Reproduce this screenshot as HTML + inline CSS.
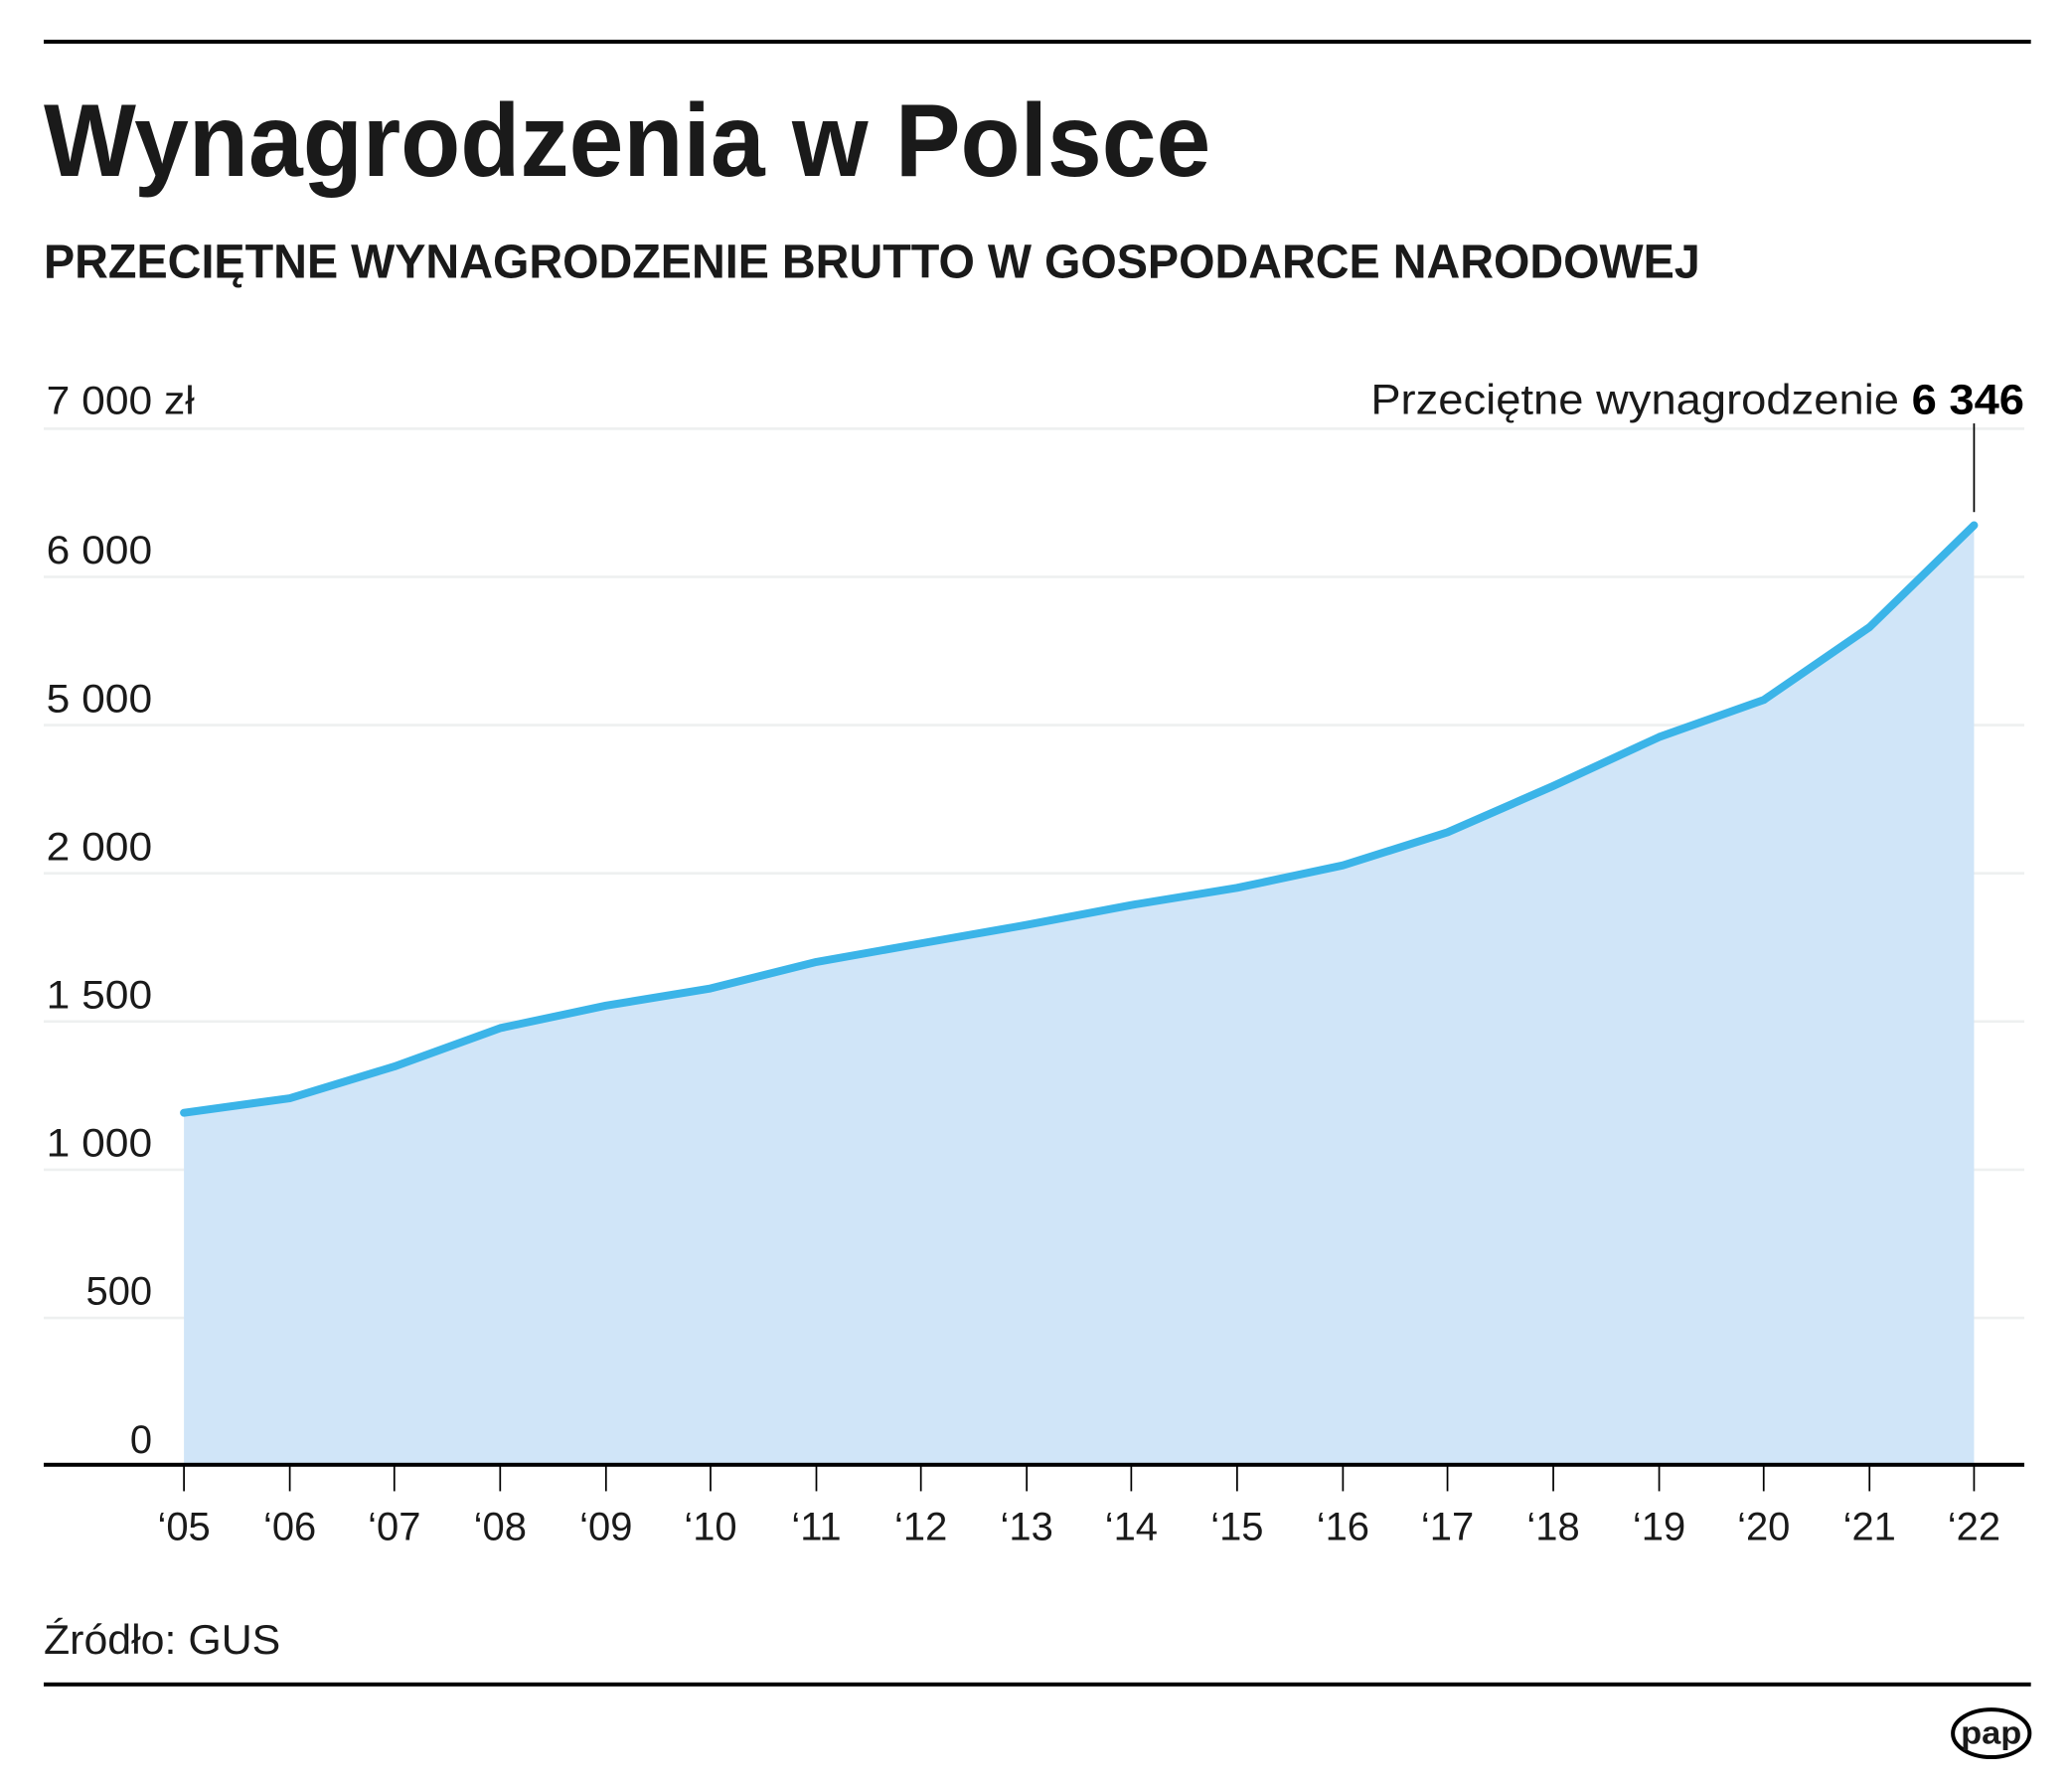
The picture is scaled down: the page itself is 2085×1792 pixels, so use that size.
<!DOCTYPE html>
<html><head><meta charset="utf-8"><style>
html,body{margin:0;padding:0;background:#fff;}
svg{display:block;}
text{font-family:"Liberation Sans",sans-serif;fill:#1a1a1a;}
</style></head><body>
<svg width="2085" height="1792" viewBox="0 0 1566 1346" xmlns="http://www.w3.org/2000/svg">
<rect x="0" y="0" width="1566" height="1346" fill="#fff"/>
<rect x="33" y="30" width="1502" height="3" fill="#000"/>
<text x="33" y="133" font-size="78" font-weight="bold" textLength="882" lengthAdjust="spacingAndGlyphs" fill="#000">Wynagrodzenia w Polsce</text>
<text x="33" y="210" font-size="36" font-weight="bold" textLength="1252" lengthAdjust="spacingAndGlyphs" fill="#000">PRZECIĘTNE WYNAGRODZENIE BRUTTO W GOSPODARCE NARODOWEJ</text>
<g stroke="#eef0f0" stroke-width="2">
<line x1="33" y1="324" x2="1530" y2="324"/>
<line x1="33" y1="436" x2="1530" y2="436"/>
<line x1="33" y1="548" x2="1530" y2="548"/>
<line x1="33" y1="660" x2="1530" y2="660"/>
<line x1="33" y1="772" x2="1530" y2="772"/>
<line x1="33" y1="884" x2="1530" y2="884"/>
<line x1="33" y1="996" x2="1530" y2="996"/>
</g>
<g font-size="30" text-anchor="end">
<text x="147" y="313" textLength="112" lengthAdjust="spacingAndGlyphs">7 000 zł</text>
<text x="115" y="426" textLength="80" lengthAdjust="spacingAndGlyphs">6 000</text>
<text x="115" y="538" textLength="80" lengthAdjust="spacingAndGlyphs">5 000</text>
<text x="115" y="650" textLength="80" lengthAdjust="spacingAndGlyphs">2 000</text>
<text x="115" y="762" textLength="80" lengthAdjust="spacingAndGlyphs">1 500</text>
<text x="115" y="874" textLength="80" lengthAdjust="spacingAndGlyphs">1 000</text>
<text x="115" y="986">500</text>
<text x="115" y="1098">0</text>
</g>
<polygon fill="#d0e5f8" points="139,1107 139,841 219,830 298,806 378,777 458,760 537,747 617,727 696,713 776,699 855,684 935,671 1015,654 1094,629 1174,594 1254,557 1333,529 1413,474 1492,397 1492,1107"/>
<polyline fill="none" stroke="#3bb4e8" stroke-width="6" stroke-linejoin="round" stroke-linecap="round" points="139,841 219,830 298,806 378,777 458,760 537,747 617,727 696,713 776,699 855,684 935,671 1015,654 1094,629 1174,594 1254,557 1333,529 1413,474 1492,397"/>
<line x1="1492" y1="320" x2="1492" y2="387" stroke="#000" stroke-width="1.3"/>
<text x="1530" y="313" font-size="32" text-anchor="end" textLength="494" lengthAdjust="spacingAndGlyphs"><tspan>Przeciętne wynagrodzenie </tspan><tspan font-weight="bold" fill="#000">6 346</tspan></text>
<rect x="33" y="1105.5" width="1497" height="3" fill="#000"/>
<g stroke="#000" stroke-width="1.3">
<line x1="139" y1="1107" x2="139" y2="1127"/><line x1="219" y1="1107" x2="219" y2="1127"/><line x1="298" y1="1107" x2="298" y2="1127"/><line x1="378" y1="1107" x2="378" y2="1127"/><line x1="458" y1="1107" x2="458" y2="1127"/><line x1="537" y1="1107" x2="537" y2="1127"/><line x1="617" y1="1107" x2="617" y2="1127"/><line x1="696" y1="1107" x2="696" y2="1127"/><line x1="776" y1="1107" x2="776" y2="1127"/><line x1="855" y1="1107" x2="855" y2="1127"/><line x1="935" y1="1107" x2="935" y2="1127"/><line x1="1015" y1="1107" x2="1015" y2="1127"/><line x1="1094" y1="1107" x2="1094" y2="1127"/><line x1="1174" y1="1107" x2="1174" y2="1127"/><line x1="1254" y1="1107" x2="1254" y2="1127"/><line x1="1333" y1="1107" x2="1333" y2="1127"/><line x1="1413" y1="1107" x2="1413" y2="1127"/><line x1="1492" y1="1107" x2="1492" y2="1127"/>
</g>
<g font-size="30" text-anchor="middle">
<text x="139" y="1164">‘05</text><text x="219" y="1164">‘06</text><text x="298" y="1164">‘07</text><text x="378" y="1164">‘08</text><text x="458" y="1164">‘09</text><text x="537" y="1164">‘10</text><text x="617" y="1164">‘11</text><text x="696" y="1164">‘12</text><text x="776" y="1164">‘13</text><text x="855" y="1164">‘14</text><text x="935" y="1164">‘15</text><text x="1015" y="1164">‘16</text><text x="1094" y="1164">‘17</text><text x="1174" y="1164">‘18</text><text x="1254" y="1164">‘19</text><text x="1333" y="1164">‘20</text><text x="1413" y="1164">‘21</text><text x="1492" y="1164">‘22</text>
</g>
<text x="33" y="1250" font-size="31" textLength="179" lengthAdjust="spacingAndGlyphs">Źródło: GUS</text>
<rect x="33" y="1271.5" width="1502" height="3" fill="#000"/>
<ellipse cx="1505" cy="1310" rx="29" ry="18" fill="#fff" stroke="#000" stroke-width="3"/>
<text x="1505" y="1318" font-size="24" font-weight="bold" text-anchor="middle" fill="#000" textLength="46" lengthAdjust="spacingAndGlyphs">pap</text>
</svg>
</body></html>
